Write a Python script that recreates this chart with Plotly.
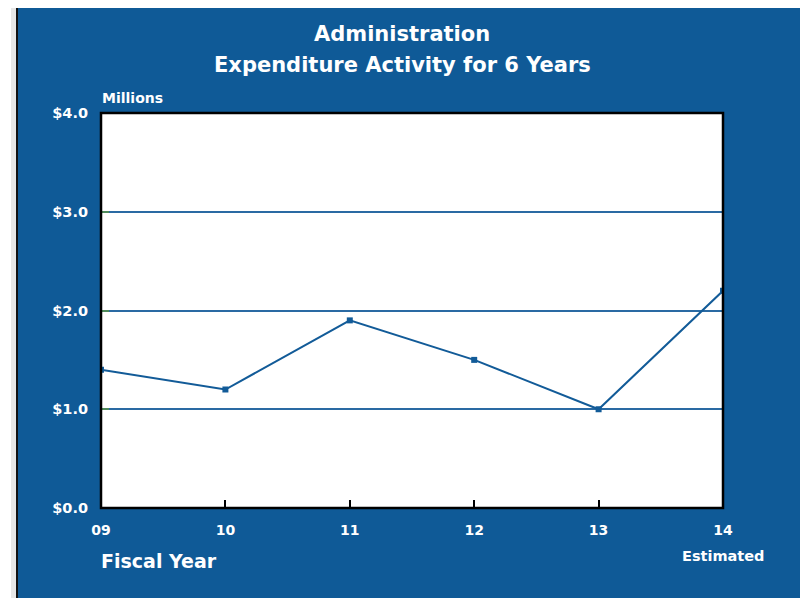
import plotly.graph_objects as go

years = [9, 10, 11, 12, 13, 14]
year_labels = ["09", "10", "11", "12", "13", "14"]
expenditure = [1.4, 1.2, 1.9, 1.5, 1.0, 2.2]
y_ticks = [0, 1, 2, 3, 4]
y_tick_labels = ["$0.0", "$1.0", "$2.0", "$3.0", "$4.0"]

OFF = 8  # page body margin
W, H = 808 - OFF, 598 - OFF
L, R, T, B = 101, 723, 113, 508  # plot area edges in window pixels
BLUE = "#0F5A97"
FONT = "DejaVu Sans"

def px(x):
    return (x - L) / (R - L)

def py(y):
    return (B - y) / (B - T)

fig = go.Figure()
fig.add_trace(go.Scatter(
    x=years, y=expenditure, mode="lines+markers",
    line=dict(color="#125B98", width=2),
    marker=dict(symbol="square", size=6, color="#125B98"),
    hoverinfo="skip", showlegend=False,
))

shapes = [
    dict(type="rect", xref="paper", yref="paper", x0=px(11), x1=px(820), y0=py(2), y1=py(620),
         fillcolor="#E6E6E6", line=dict(width=0), layer="below"),
    dict(type="rect", xref="paper", yref="paper", x0=px(16), x1=px(806), y0=py(6), y1=py(620),
         fillcolor="#111111", line=dict(width=0), layer="below"),
    dict(type="rect", xref="paper", yref="paper", x0=px(18), x1=px(805), y0=py(8), y1=py(620),
         fillcolor=BLUE, line=dict(width=0), layer="below"),
    dict(type="rect", xref="paper", yref="paper", x0=0, x1=1, y0=0, y1=1,
         fillcolor="white", line=dict(width=0), layer="below"),
    dict(type="rect", xref="paper", yref="paper", x0=0, x1=1, y0=0, y1=1,
         line=dict(color="black", width=2.5), layer="above"),
]

annotations = [
    dict(text="<b>Administration</b>", x=px(402), y=py(34), xref="paper", yref="paper",
         showarrow=False, font=dict(family=FONT, size=21, color="white"), xanchor="center", yanchor="middle"),
    dict(text="<b>Expenditure Activity for 6 Years</b>", x=px(402), y=py(65), xref="paper", yref="paper",
         showarrow=False, font=dict(family=FONT, size=21, color="white"), xanchor="center", yanchor="middle"),
    dict(text="<b>Millions</b>", x=px(100), y=py(98), xref="paper", yref="paper",
         showarrow=False, font=dict(family=FONT, size=14, color="white"), xanchor="left", yanchor="middle"),
    dict(text="<b>Fiscal Year</b>", x=px(99), y=py(561), xref="paper", yref="paper",
         showarrow=False, font=dict(family=FONT, size=19, color="white"), xanchor="left", yanchor="middle"),
    dict(text="<b>Estimated</b>", x=px(723), y=py(556), xref="paper", yref="paper",
         showarrow=False, font=dict(family=FONT, size=14.5, color="white"), xanchor="center", yanchor="middle"),
]

fig.update_layout(
    width=W, height=H,
    margin=dict(l=L - OFF, r=W - (R - OFF), t=T - OFF, b=H - (B - OFF), pad=0),
    paper_bgcolor="white", plot_bgcolor="rgba(0,0,0,0)",
    shapes=shapes, annotations=annotations,
    font=dict(family=FONT, color="white"),
    xaxis=dict(
        range=[9, 14], tickvals=years, ticktext=[f"<b>{t}</b>" for t in year_labels],
        showgrid=False, zeroline=False, showline=False,
        ticks="inside", ticklen=8, tickwidth=2, tickcolor="black",
        tickfont=dict(family=FONT, size=14, color="white"), ticklabelstandoff=12,
    ),
    yaxis=dict(
        range=[0, 4], tickvals=y_ticks, ticktext=[f"<b>{t}</b>" for t in y_tick_labels],
        showgrid=True, gridcolor="#2A6AA3", gridwidth=2, zeroline=False, showline=False,
        ticks="inside", ticklen=8, tickwidth=2, tickcolor="#4F8A5A",
        tickfont=dict(family=FONT, size=14.5, color="white"), ticklabelstandoff=12,
    ),
)

fig.write_html("out.html")
